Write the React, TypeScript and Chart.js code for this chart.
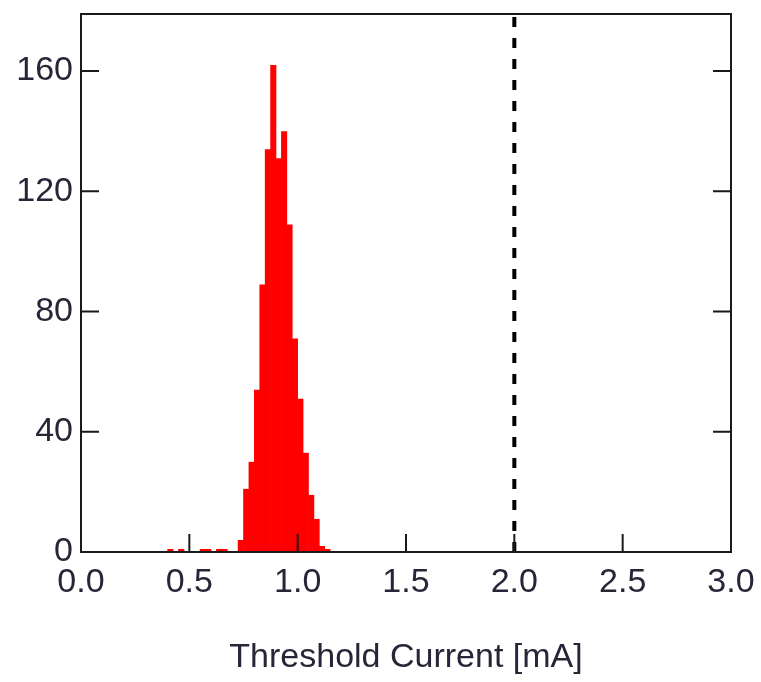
import React, { useEffect, useRef } from "react";
import { Chart, registerables } from "chart.js";

Chart.register(...registerables);

// Histogram bin centres (Threshold Current, mA) — bin width 0.025
const binCenters = [
  0.4125, 0.4375, 0.4625, 0.4875, 0.5125, 0.5375, 0.5625, 0.5875, 0.6125, 0.6375,
  0.6625, 0.6875, 0.7125, 0.7375, 0.7625, 0.7875, 0.8125, 0.8375, 0.8625, 0.8875,
  0.9125, 0.9375, 0.9625, 0.9875, 1.0125, 1.0375, 1.0625, 1.0875, 1.1125, 1.1375,
];
const counts = [
  1, 0, 1, 0, 0, 0, 1, 1, 0, 1,
  1, 0, 0, 4, 21, 30, 54, 89, 134, 162,
  131, 140, 109, 71, 51, 33, 19, 11, 2, 1,
];
const thresholdLineX = 2.0;
const xMin = 0;
const xMax = 3;
const xTickValues = [0, 0.5, 1.0, 1.5, 2.0, 2.5, 3.0];
const yMin = 0;
const yMax = 179;
const yTickValues = [0, 40, 80, 120, 160];
const xTitle = "Threshold Current [mA]";

const TEXT_COLOR = "#262638";
const FONT_FAMILY = "'Liberation Sans', Arial, sans-serif";
const FONT_SIZE = 34;

const framePlugin = {
  id: "frameTicks",
  afterDraw(chart: any) {
    const { ctx, chartArea } = chart;
    const xs = chart.scales.x;
    const ys = chart.scales.y;
    const len = 18;
    ctx.save();
    ctx.strokeStyle = "#1a1a1a";
    ctx.lineWidth = 2;
    ctx.beginPath();
    ctx.rect(chartArea.left, chartArea.top, chartArea.right - chartArea.left, chartArea.bottom - chartArea.top);
    ctx.stroke();
    ctx.beginPath();
    xs.ticks.forEach((t: any) => {
      const px = xs.getPixelForValue(t.value);
      if (px <= chartArea.left + 1 || px >= chartArea.right - 1) return;
      ctx.moveTo(px, chartArea.bottom);
      ctx.lineTo(px, chartArea.bottom - len);
    });
    ys.ticks.forEach((t: any) => {
      const py = ys.getPixelForValue(t.value);
      if (py >= chartArea.bottom - 1 || py <= chartArea.top + 1) return;
      ctx.moveTo(chartArea.left, py);
      ctx.lineTo(chartArea.left + len, py);
      ctx.moveTo(chartArea.right, py);
      ctx.lineTo(chartArea.right - len, py);
    });
    ctx.stroke();
    ctx.restore();
  },
};

export default function App() {
  const canvasRef = useRef<HTMLCanvasElement | null>(null);

  useEffect(() => {
    if (!canvasRef.current) return;
    const barData = binCenters.map((x, i) => ({ x, y: counts[i] }));
    const chart = new Chart(canvasRef.current, {
      type: "bar",
      data: {
        datasets: [
          {
            type: "bar",
            data: barData,
            backgroundColor: "#ff0000",
            borderWidth: 0,
            barPercentage: 1.12,
            categoryPercentage: 1,
            grouped: false,
            order: 2,
          } as any,
          {
            type: "line",
            data: [
              { x: thresholdLineX, y: yMin },
              { x: thresholdLineX, y: yMax },
            ],
            borderColor: "#000000",
            borderWidth: 4,
            borderDash: [10, 11],
            pointRadius: 0,
            fill: false,
            order: 1,
          } as any,
        ],
      },
      options: {
        animation: false,
        responsive: true,
        maintainAspectRatio: false,
        layout: { padding: { left: 0, right: 30, top: 14, bottom: 0 } },
        plugins: {
          legend: { display: false },
          tooltip: { enabled: false },
        },
        scales: {
          x: {
            type: "linear",
            min: xMin,
            max: xMax,
            offset: false,
            grid: { display: false, drawTicks: false },
            border: { display: false },
            afterBuildTicks: (scale: any) => {
              scale.ticks = xTickValues.map((v) => ({ value: v }));
            },
            ticks: {
              color: TEXT_COLOR,
              font: { family: FONT_FAMILY, size: FONT_SIZE },
              padding: 10,
              maxRotation: 0,
              autoSkip: false,
              callback: (v: any) => Number(v).toFixed(1),
            },
            title: {
              display: true,
              text: xTitle,
              color: TEXT_COLOR,
              font: { family: FONT_FAMILY, size: FONT_SIZE },
              padding: { top: 0, bottom: 4 },
            },
            afterFit: (scale: any) => {
              scale.height = 130;
              scale.paddingLeft = 0;
              scale.paddingRight = 0;
            },
          },
          y: {
            type: "linear",
            min: yMin,
            max: yMax,
            grid: { display: false, drawTicks: false },
            border: { display: false },
            afterBuildTicks: (scale: any) => {
              scale.ticks = yTickValues.map((v) => ({ value: v }));
            },
            ticks: {
              color: TEXT_COLOR,
              font: { family: FONT_FAMILY, size: FONT_SIZE },
              padding: 8,
              autoSkip: false,
            },
            afterFit: (scale: any) => {
              scale.width = 81;
              scale.paddingTop = 0;
              scale.paddingBottom = 0;
            },
          },
        },
      },
      plugins: [framePlugin],
    });
    return () => chart.destroy();
  }, []);

  return (
    <div style={{ position: "fixed", left: 0, top: 0, width: 761, height: 682, background: "#ffffff" }}>
      <canvas ref={canvasRef} />
    </div>
  );
}
